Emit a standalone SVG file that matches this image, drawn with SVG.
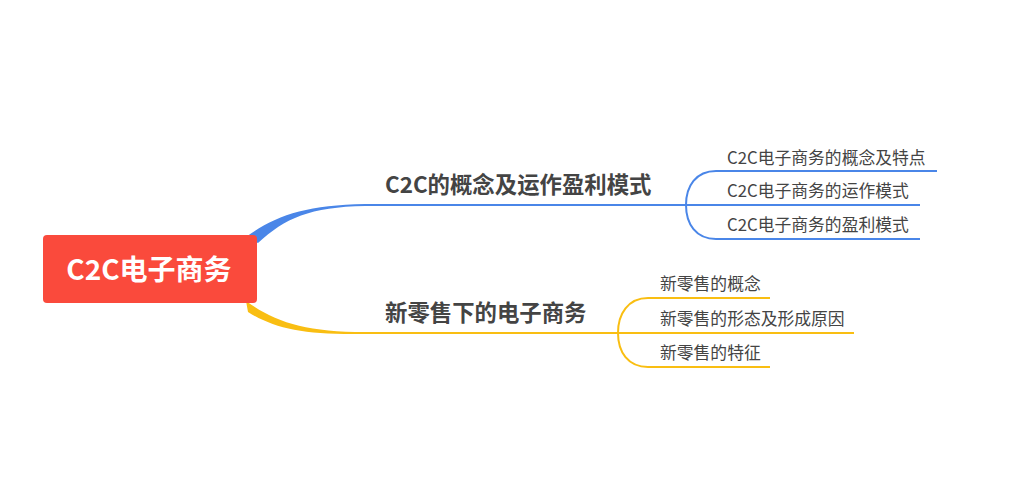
<svg xmlns="http://www.w3.org/2000/svg" width="1009" height="484" viewBox="0 0 1009 484">
<style>
.t1{font-family:"Noto Sans CJK SC","Liberation Sans",sans-serif;font-weight:bold;font-size:22.4px;fill:#444}
.t2{font-family:"Noto Sans CJK SC","Liberation Sans",sans-serif;font-size:16.8px;fill:#444}
.b{stroke:#4A86E8;stroke-width:2;fill:none}
.y{stroke:#F9BE12;stroke-width:2;fill:none}
</style>
<rect width="1009" height="484" fill="#fff"/>
<g id="connectors">
<path d="M246,237 C275,216 305,205 365,204 L365,206 C310,207 285,218 258,243 Z" fill="#4A86E8"/>
<path d="M246,301 C275,322 305,332 365,332 L365,334 C305,335 275,329 248,312 Z" fill="#F9BE12"/>
<path class="b" d="M364,205 L686,205"/>
<path class="b" d="M686,205 L920,205"/>
<path class="b" d="M686,205 C686,186 696,171 716,171 L937,171"/>
<path class="b" d="M686,205 C686,224 696,239 716,239 L920,239"/>
<path class="y" d="M364,333 L854,333"/>
<path class="y" d="M618,333 C618,314 628,298 648,298 L770,298"/>
<path class="y" d="M618,333 C618,352 628,367 648,367 L770,367"/>
</g>
<g id="root">
<rect x="43" y="235" width="214" height="68" rx="4" fill="#FA4A3C"/>
<text x="149" y="280" text-anchor="middle" font-family="Noto Sans CJK SC,Liberation Sans,sans-serif" font-weight="bold" font-size="28" fill="#fff">C2C电子商务</text>
</g>
<g id="b1"><text class="t1" x="385" y="193">C2C的概念及运作盈利模式</text></g>
<g id="b2"><text class="t1" x="385" y="321">新零售下的电子商务</text></g>
<g id="b1a"><text class="t2" x="727" y="164">C2C电子商务的概念及特点</text></g>
<g id="b1b"><text class="t2" x="727" y="197">C2C电子商务的运作模式</text></g>
<g id="b1c"><text class="t2" x="727" y="231">C2C电子商务的盈利模式</text></g>
<g id="b2a"><text class="t2" x="660" y="290">新零售的概念</text></g>
<g id="b2b"><text class="t2" x="660" y="325">新零售的形态及形成原因</text></g>
<g id="b2c"><text class="t2" x="660" y="359">新零售的特征</text></g>
</svg>
